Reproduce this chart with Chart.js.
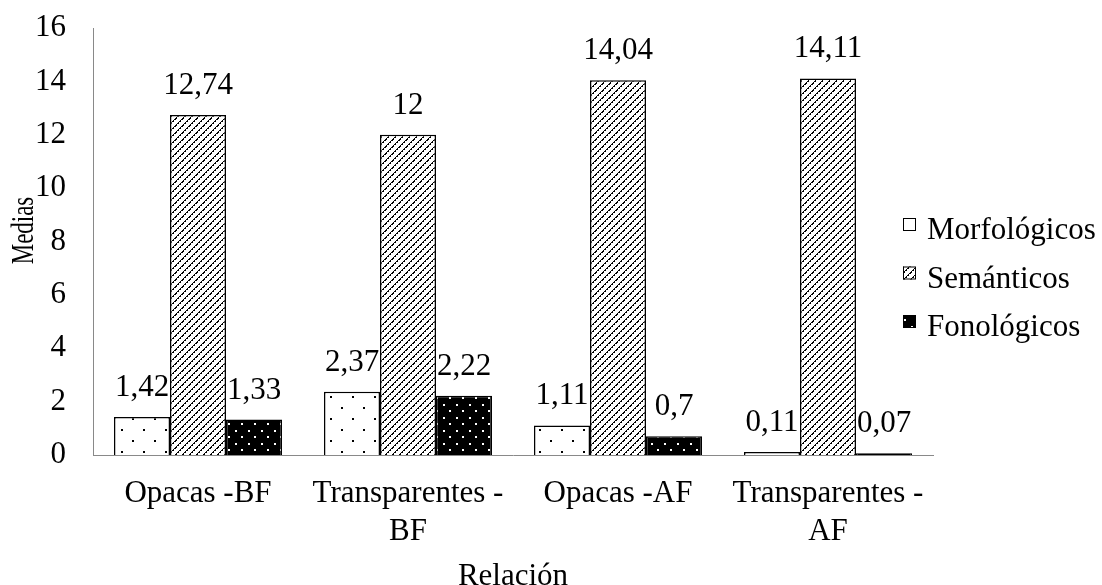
<!DOCTYPE html>
<html><head><meta charset="utf-8">
<script src="https://cdn.jsdelivr.net/npm/chart.js@4"></script>
<style>html,body{margin:0;padding:0;background:#fff}#wrap{width:1102px;height:585px}</style>
</head><body><div id="wrap"><canvas id="c" width="1102" height="585"></canvas></div>
<script>
const categories = [["Opacas -BF"], ["Transparentes -", "BF"], ["Opacas -AF"], ["Transparentes -", "AF"]];
const seriesNames = ["Morfológicos", "Semánticos", "Fonológicos"];
const morfologicos = [1.42, 2.37, 1.11, 0.11];
const semanticos = [12.74, 12, 14.04, 14.11];
const fonologicos = [1.33, 2.22, 0.7, 0.07];
const yTicks = [0, 2, 4, 6, 8, 10, 12, 14, 16];
const yTitle = "Medias";
const xTitle = "Relación";

const FONT = "'Liberation Serif', 'Times New Roman', serif";
const FS = 31;

function tile(w, h, draw) {
  const c = document.createElement('canvas'); c.width = w; c.height = h;
  const g = c.getContext('2d'); draw(g, w, h);
  return document.getElementById('c').getContext('2d').createPattern(c, 'repeat');
}
const patMorfo = tile(22, 22, (g) => { g.fillStyle = '#fff'; g.fillRect(0,0,22,22); g.fillStyle = '#000'; g.fillRect(0,0,2,2); g.fillRect(11,11,2,2); });
const patSem = tile(7, 7, (g) => { g.fillStyle = '#fff'; g.fillRect(0,0,7,7); g.fillStyle = '#000';
  for (let i = 0; i < 7; i++) { g.fillRect(i, 6 - i, 1, 1); if (i % 2 === 0) g.fillRect(i+1 < 7 ? i+1 : 0, 6 - i, 1, 1); } });
const patFono = tile(13, 13, (g) => { g.fillStyle = '#000'; g.fillRect(0,0,13,13); g.fillStyle = '#fff'; g.fillRect(1,1,2,2); g.fillRect(7,7,2,2); });
const patterns = [patMorfo, patSem, patFono];

const fmt = v => String(v).replace('.', ',');

const labelsPlugin = {
  id: 'valueLabels',
  afterDatasetsDraw(chart) {
    const ctx = chart.ctx;
    ctx.save();
    ctx.font = FS + 'px ' + FONT; ctx.fillStyle = '#000'; ctx.textAlign = 'center'; ctx.textBaseline = 'alphabetic';
    chart.data.datasets.forEach((ds, i) => {
      chart.getDatasetMeta(i).data.forEach((el, j) => {
        ctx.fillText(fmt(ds.data[j]), el.x, el.y - 21);
      });
    });
    ctx.restore();
  }
};

const yTitlePlugin = {
  id: 'yTitleSqueezed',
  afterDraw(chart) {
    const ctx = chart.ctx, a = chart.chartArea;
    ctx.save();
    ctx.font = FS + 'px ' + FONT; ctx.fillStyle = '#000'; ctx.textAlign = 'center'; ctx.textBaseline = 'alphabetic';
    ctx.translate(33, (a.top + a.bottom) / 2 - 11);
    ctx.rotate(-Math.PI / 2);
    ctx.scale(0.74, 1);
    ctx.fillText(yTitle, 0, 0);
    ctx.restore();
  }
};

const legendPlugin = {
  id: 'customLegend',
  afterDraw(chart) {
    const ctx = chart.ctx;
    ctx.save();
    ctx.font = FS + 'px ' + FONT; ctx.textBaseline = 'middle'; ctx.textAlign = 'left';
    const x0 = 903, ys = [231, 279.5, 328];
    chart.data.datasets.forEach((ds, i) => {
      const y = ys[i];
      ctx.fillStyle = ds.backgroundColor; ctx.fillRect(x0, y - 13, 13, 13);
      ctx.strokeStyle = '#000'; ctx.lineWidth = 1; ctx.strokeRect(x0 + 0.5, y - 12.5, 12, 12);
      ctx.fillStyle = '#000'; ctx.fillText(ds.label, 927, y);
    });
    ctx.restore();
  }
};

new Chart(document.getElementById('c'), {
  type: 'bar',
  data: {
    labels: categories,
    datasets: [
      { label: seriesNames[0], data: morfologicos, backgroundColor: patterns[0] },
      { label: seriesNames[1], data: semanticos, backgroundColor: patterns[1] },
      { label: seriesNames[2], data: fonologicos, backgroundColor: patterns[2] }
    ].map(d => Object.assign(d, { borderColor: '#000', borderWidth: 1.5, categoryPercentage: 0.8, barPercentage: 1.0 }))
  },
  options: {
    responsive: false, animation: false, devicePixelRatio: 1,
    layout: { padding: { left: 0, right: 169, top: 28, bottom: 0 } },
    plugins: { legend: { display: false }, tooltip: { enabled: false } },
    scales: {
      x: {
        grid: { display: false, drawTicks: false },
        border: { display: true, color: '#898989', width: 1 },
        ticks: { color: '#000', font: { family: FONT, size: FS, lineHeight: '38px' }, padding: 20, maxRotation: 0, autoSkip: false },
        title: { display: true, text: xTitle, color: '#000', font: { family: FONT, size: FS, lineHeight: '16px' }, padding: { top: 0, bottom: 0 } },
        afterFit: s => { s.height = 130; }
      },
      y: {
        min: 0, max: 16,
        afterBuildTicks: s => { s.ticks = yTicks.map(v => ({ value: v })); },
        grid: { display: false, drawTicks: false },
        border: { display: true, color: '#898989', width: 1 },
        ticks: { color: '#000', font: { family: FONT, size: FS }, padding: 27 },
        title: { display: false },
        afterFit: s => { s.width = 93; s.paddingTop = 0; s.paddingBottom = 0; }
      }
    }
  },
  plugins: [labelsPlugin, legendPlugin, yTitlePlugin]
});
</script></body></html>
